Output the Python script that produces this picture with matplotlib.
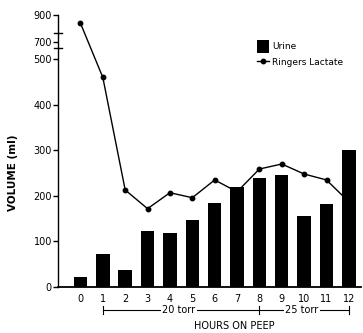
import numpy as np
import matplotlib
matplotlib.use("Agg")
import matplotlib.pyplot as plt

hours = list(range(13))
hour_labels = ["0", "1", "2", "3", "4", "5", "6", "7", "8", "9", "10", "11", "12"]
urine = [23, 72, 37, 122, 119, 147, 184, 219, 239, 246, 155, 182, 300]
ringers = [840, 460, 213, 172, 207, 196, 235, 209, 259, 270, 248, 235, 187]
y_ticks = [0, 100, 200, 300, 400, 500, 700, 900]

# broken axis: compressed above 500
REAL = [0, 500, 700, 900]
DRAWN = [0, 500, 537, 597]


def fwd(v):
    return np.interp(v, REAL, DRAWN)


def inv(v):
    return np.interp(v, DRAWN, REAL)


fig = plt.figure(figsize=(3.63, 3.33), dpi=100)
ax = fig.add_axes([0.160, 0.138, 0.835, 0.817])
ax.set_yscale("function", functions=(fwd, inv))

# bars sit on top of the line, as in the original
line, = ax.plot(hours, ringers, "-o", color="black", lw=1.0, ms=3.2,
                label="Ringers Lactate", zorder=2)
bars = ax.bar(hours, urine, width=0.6, color="black", label="Urine", zorder=3)

ax.set_xlim(-1.0, 12.55)
ax.set_ylim(0, 900)
ax.set_yticks(y_ticks)
ax.set_yticklabels([str(t) for t in y_ticks])
ax.set_xticks(hours)
ax.set_xticklabels(hour_labels)
ax.tick_params(axis="y", length=3.5, width=1, labelsize=7, pad=1)
ax.tick_params(axis="x", length=0, labelsize=7, pad=5)
for s in ["top", "right"]:
    ax.spines[s].set_visible(False)
ax.spines["left"].set_linewidth(1.0)
ax.spines["bottom"].set_linewidth(1.3)

# break marks on y axis
for v in [633, 769]:
    ax.plot([-0.012, 0.012], [v, v], color="black", lw=1,
            transform=ax.get_yaxis_transform(), clip_on=False)

# PEEP bracket
tr = ax.get_xaxis_transform()
yb = -0.085
ax.plot([1, 12], [yb, yb], color="black", lw=0.8, transform=tr, clip_on=False)
for x in [1, 8, 12]:
    ax.plot([x, x], [yb - 0.015, yb + 0.015], color="black", lw=0.8,
            transform=tr, clip_on=False)
ax.text(4.4, yb, "20 torr", transform=tr, ha="center", va="center", fontsize=7,
        bbox=dict(facecolor="white", edgecolor="none", pad=1))
ax.text(9.9, yb, "25 torr", transform=tr, ha="center", va="center", fontsize=7,
        bbox=dict(facecolor="white", edgecolor="none", pad=1))
ax.text(6.9, -0.145, "HOURS ON PEEP", transform=tr, ha="center", va="center",
        fontsize=7)

fig.text(0.036, 0.48, "VOLUME (ml)", rotation=90, ha="center", va="center",
         fontsize=7.5, fontweight="bold")

ax.legend([bars, line], ["Urine", "Ringers Lactate"], loc="upper left",
          bbox_to_anchor=(0.645, 0.92), frameon=False, fontsize=6.5,
          handlelength=1.3, handleheight=1.7, handletextpad=0.35,
          labelspacing=0.4, borderaxespad=0)

fig.savefig("out.png", dpi=100)
